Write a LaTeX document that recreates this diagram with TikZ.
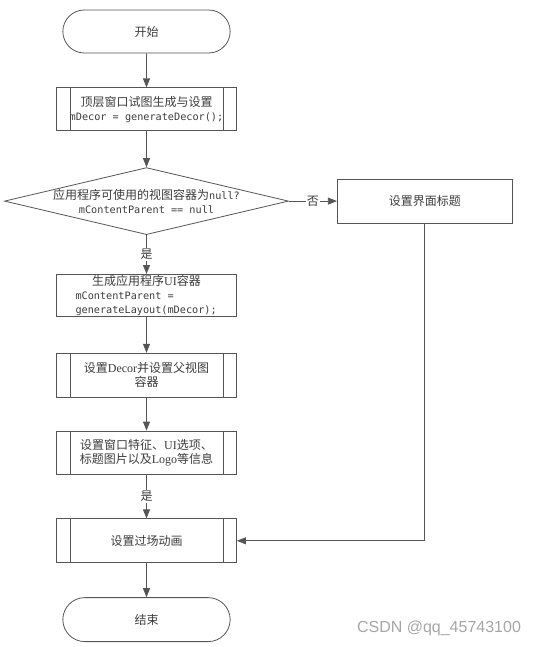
\documentclass[tikz,border=0pt]{standalone}
\usepackage{fontspec}
\setmainfont{Noto Sans CJK SC}
\setmonofont[Scale=0.85]{DejaVu Sans Mono}
\newfontfamily\latin{Liberation Serif}
\newfontfamily\wmfont{Liberation Sans}
\usetikzlibrary{positioning}
\usetikzlibrary{arrows.meta}
\usetikzlibrary{shapes.geometric}
\usetikzlibrary{shapes.misc}
\definecolor{linegray}{RGB}{85,85,85}
\definecolor{inkgray}{RGB}{60,60,60}

\begin{document}
\begin{tikzpicture}[x=1pt, y=1pt, node distance=35pt, >={Triangle[length=9pt,width=7pt]},
    every node/.style={text=inkgray, align=center, font=\fontsize{12}{14}\selectfont},
    term/.style={draw=linegray, line width=0.8pt, rounded rectangle, minimum width=174pt, minimum height=43pt},
    proc/.style={draw=linegray, line width=0.8pt, rectangle, minimum width=180pt, minimum height=43pt, inner sep=1pt},
    subproc/.style={proc, path picture={\draw[linegray, line width=0.8pt]
        ([xshift=13.5pt]path picture bounding box.north west) -- ([xshift=13.5pt]path picture bounding box.south west)
        ([xshift=-13.5pt]path picture bounding box.north east) -- ([xshift=-13.5pt]path picture bounding box.south east);}},
    decide/.style={draw=linegray, line width=0.8pt, diamond, aspect=4.2, inner sep=-3pt, minimum width=284pt, minimum height=67pt},
    tag/.style={fill=white, inner sep=1pt},
    flow/.style={draw=linegray, line width=0.8pt}]
    \useasboundingbox (0,0) rectangle (539,-647);

    \node (start) [term] at (146.5,-31.5) {开始};
    \node (top) [subproc, below=34pt of start] {顶层窗口试图生成与设置\\\texttt{mDecor = generateDecor();}};
    \node (null) [decide, below=36pt of top] {应用程序可使用的视图容器为\texttt{null?}\\\texttt{mContentParent == null}};
    \node (title) [proc, right=48pt of null, minimum width=175pt, minimum height=44pt] {设置界面标题};
    \node (ui) [proc, below=39pt of null, minimum height=42pt, inner sep=0pt, align=left] {\makebox[142pt]{生成应用程序{\latin UI}容器}\\\texttt{mContentParent =}\\\texttt{generateLayout(mDecor);}};
    \node (decor) [subproc, below=36pt of ui, minimum height=44pt] {设置{\latin Decor}并设置父视图\\容器};
    \node (win) [subproc, below=33pt of decor] {设置窗口特征、{\latin UI}选项、\\标题图片以及{\latin Logo}等信息};
    \node (anim) [subproc, below=44pt of win, minimum height=44pt] {设置过场动画};
    \node (stop) [term, below=34pt of anim, minimum height=44pt] {结束};
    \node (mark) [text=gray!70, font=\wmfont\fontsize{16}{16}\selectfont] at (439,-628) {CSDN @qq\_45743100};

    \draw[->, flow] (start) -- (top);
    \draw[->, flow] (top) -- (null);
    \draw[->, flow] (null) -- node[tag] {是} (ui);
    \draw[->, flow] (null) -- node[tag] {否} (title);
    \draw[->, flow] (ui) -- (decor);
    \draw[->, flow] (decor) -- (win);
    \draw[->, flow] (win) -- node[tag] {是} (anim);
    \draw[->, flow] (title) |- (anim);
    \draw[->, flow] (anim) -- (stop);
\end{tikzpicture}
\end{document}
